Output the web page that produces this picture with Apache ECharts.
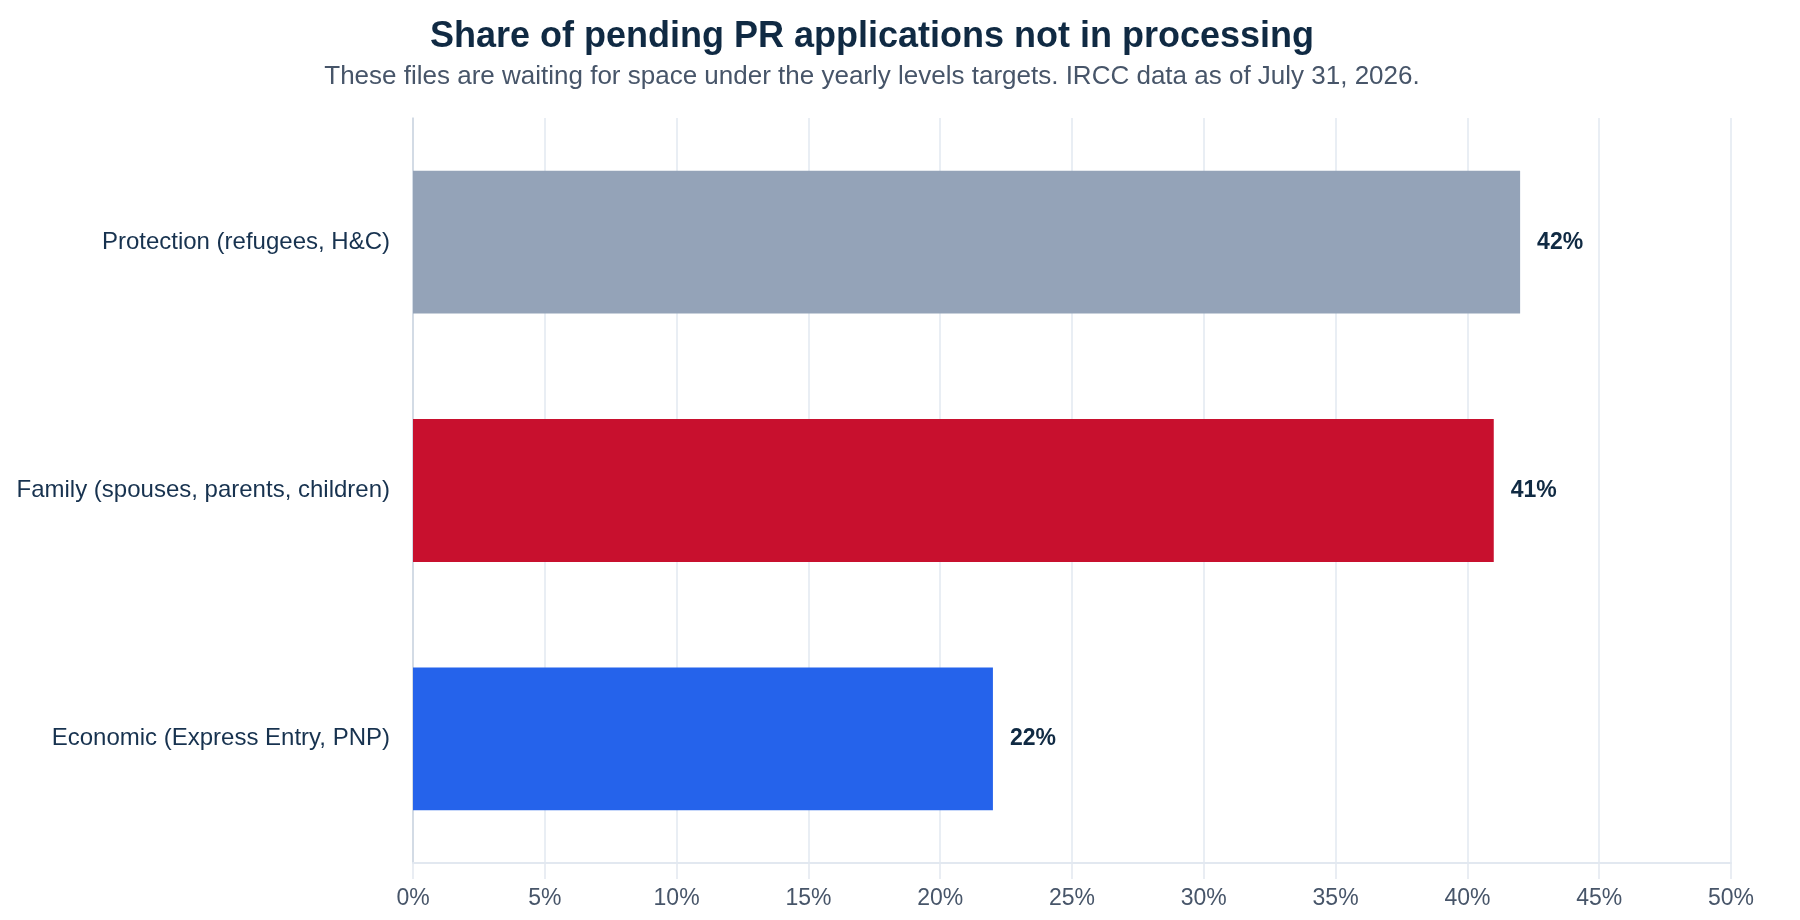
<!DOCTYPE html>
<html>
<head>
<meta charset="utf-8">
<script src="https://cdn.jsdelivr.net/npm/echarts@6/dist/echarts.min.js"></script>
<style>
  html, body { margin: 0; padding: 0; background: #ffffff; }
  .EC { width: 1800px; height: 920px; }
</style>
</head>
<body>
<div class="EC"></div>
<script>
    // data
    const categories = ['Protection (refugees, H&C)', 'Family (spouses, parents, children)', 'Economic (Express Entry, PNP)']
    const shares = [42, 41, 22]
    const barColors = ['#94a3b8', '#c8102e', '#2563eb']
    const titleText = 'Share of pending PR applications not in processing'
    const subText = 'These files are waiting for space under the yearly levels targets. IRCC data as of July 31, 2026.'

    window.onload = () => {
        let EC = echarts.init(document.querySelector('.EC'))
        let font = 'Liberation Sans, Arial, Helvetica, sans-serif'
        let option = {
            backgroundColor: '#ffffff',
            animation: false,
            title: [{
                text: titleText,
                left: 872,
                top: 19,
                padding: 0,
                textAlign: 'center',
                textStyle: { fontFamily: font, fontSize: 36, fontWeight: 'bold', color: '#102a43' }
            }, {
                text: subText,
                left: 872,
                top: 64,
                padding: 0,
                textAlign: 'center',
                textStyle: { fontFamily: font, fontSize: 26, fontWeight: 'normal', color: '#475569' }
            }],
            grid: { left: 413, right: 69, top: 118, bottom: 57, containLabel: false },
            xAxis: {
                type: 'value',
                min: 0,
                max: 50,
                interval: 5,
                axisLine: { show: true, lineStyle: { color: '#e2e8f0', width: 2 } },
                axisTick: { show: true, length: 16, lineStyle: { color: '#e2e8f0', width: 1.5 } },
                splitLine: { show: true, lineStyle: { color: '#e2e8f0', width: 1.5 } },
                axisLabel: {
                    formatter: '{value}%',
                    margin: 24,
                    fontFamily: font,
                    fontSize: 23,
                    color: '#475569'
                }
            },
            yAxis: {
                type: 'category',
                data: categories,
                inverse: true,
                axisLine: { show: true, lineStyle: { color: '#cbd5e1', width: 1.5 } },
                axisTick: { show: false },
                axisLabel: {
                    margin: 23,
                    padding: [3, 0, 0, 0],
                    fontFamily: font,
                    fontSize: 24,
                    color: '#17324f'
                }
            },
            series: [{
                type: 'bar',
                barWidth: '57.5%',
                data: shares.map((v, i) => ({ value: v, itemStyle: { color: barColors[i] } })),
                label: {
                    show: true,
                    position: 'right',
                    distance: 17,
                    padding: [2, 0, 0, 0],
                    formatter: '{c}%',
                    fontFamily: font,
                    fontSize: 23,
                    fontWeight: 'bold',
                    color: '#102a43'
                }
            }]
        }
        EC.setOption(option)
    }
</script>
</body>
</html>
